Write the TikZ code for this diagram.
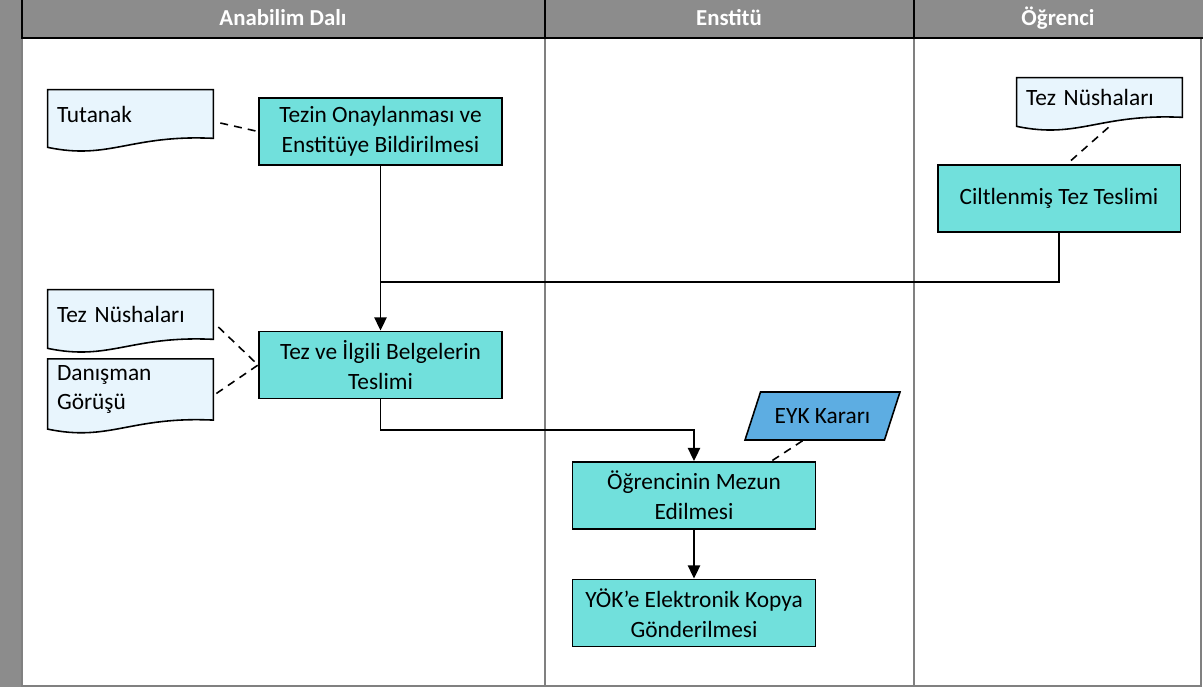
\documentclass[tikz,border=0pt]{standalone}
\usepackage{fontspec}
\setmainfont{Carlito}
\usepackage{tikz}
\usetikzlibrary{arrows.meta}
\usetikzlibrary{shapes.geometric}
\usetikzlibrary{calc}
\usetikzlibrary{backgrounds}
\definecolor{baslik}{RGB}{140,140,140}
\definecolor{kutu}{RGB}{113,224,220}
\definecolor{belge}{RGB}{232,245,253}
\definecolor{karar}{RGB}{93,173,226}
\definecolor{serit}{RGB}{128,128,128}
\tikzset{
    yazi/.style={font=\fontsize{13.3}{17}\selectfont},
    surec/.style={yazi, draw=black, line width=1.1pt, fill=kutu, minimum width=4.86cm, minimum height=1.34cm, align=center},
    evrak/.style={yazi, minimum width=3.3cm, text width=2.94cm, inner xsep=0.18cm, align=left},
    evrakcizgi/.style={draw=black, line width=0.9pt, fill=belge},
    girdi/.style={yazi, draw=black, line width=0.9pt, fill=karar, shape=trapezium, trapezium left angle=60, trapezium right angle=120, trapezium stretches body, minimum width=3.1cm, minimum height=0.96cm},
    seritad/.style={font=\fontsize{13}{15}\selectfont\bfseries, text=white, anchor=base},
    akis/.style={line width=0.9pt, -{Triangle[width=7pt,length=7.5pt]}},
    hat/.style={line width=0.9pt},
    kesik/.style={line width=0.9pt, dash pattern=on 4.5pt off 3.5pt}
}
\begin{document}
\begin{tikzpicture}[x=0.02cm, y=-0.02cm]
    \useasboundingbox (0,0) rectangle (1203,687);

    % seritler
    \fill[baslik] (0,0) rectangle (1203,38);
    \fill[baslik] (0,0) rectangle (22,687);
    \draw[serit, line width=0.6pt] (22,38) rectangle (1201,686);
    \draw[serit, line width=0.6pt] (545,38) -- (545,686);
    \draw[serit, line width=0.6pt] (914,38) -- (914,686);
    \draw[black, line width=1.1pt] (22,0) -- (22,38) -- (1203,38);
    \draw[black, line width=1.1pt] (545,0) -- (545,38);
    \draw[black, line width=1.1pt] (914,0) -- (914,38);
    \node[seritad] (anabilim) at (283,25) {Anabilim Dalı};
    \node[seritad] (enstitu) at (729,25) {Enstitü};
    \node[seritad] (ogrenci) at (1058,25) {Öğrenci};

    % surecler
    \node[surec] (onay) at (380.5,131.5) {Tezin Onaylanması ve\\Enstitüye Bildirilmesi};
    \node[surec] (cilt) at (1059,198.5) {Ciltlenmiş Tez Teslimi};
    \node[surec] (teslim) at (380.5,365) {Tez ve İlgili Belgelerin\\Teslimi};
    \node[surec] (mezun) at (694,495.5) {Öğrencinin Mezun\\Edilmesi};
    \node[surec] (yok) at (694,613) {YÖK’e Elektronik Kopya\\Gönderilmesi};
    \node[girdi] (eyk) at (822.5,416) {EYK Kararı};

    % belgeler
    \node[evrak, minimum height=0.96cm] (tutanak) at (130.5,114) {Tutanak};
    \node[evrak, minimum height=0.98cm] (nushaA) at (130.5,314.5) {Tez Nüshaları};
    \node[evrak, minimum height=1.02cm] (danisman) at (130.5,389.5) {Danışman\\Görüşü};
    \node[evrak, minimum height=0.78cm] (nushaB) at (1099.5,97.5) {Tez Nüshaları};
    \begin{scope}[on background layer]
        \foreach \e in {tutanak, nushaA, danisman, nushaB}
            \draw[evrakcizgi] (\e.north west) -- (\e.north east) -- (\e.south east)
                .. controls ($(\e.south east)+(-1.66cm,0.08cm)$) and ($(\e.south west)+(1.24cm,-0.44cm)$) .. ($(\e.south west)+(0,-0.18cm)$) -- cycle;
    \end{scope}

    % baglantilar
    \coordinate (birles) at (380.5,282);
    \coordinate (kose) at (694,430);
    \draw[akis] (onay) -- (teslim);
    \draw[hat] (cilt.south) |- (birles);
    \draw[akis] (teslim.south) |- (kose) -- (mezun.north);
    \draw[akis] (mezun) -- (yok);

    \draw[kesik] ([shift={(0.14cm,-0.18cm)}]tutanak.east) -- (onay.west);
    \draw[kesik] ([shift={(0.1cm,-0.25cm)}]nushaA.east) -- (teslim.west);
    \draw[kesik] ([shift={(0.06cm,-0.08cm)}]danisman.east) -- (teslim.west);
    \draw[kesik] ([xshift=-0.4cm]eyk.south) -- ([xshift=1.55cm]mezun.north);
    \draw[kesik] ([shift={(0.18cm,-0.2cm)}]nushaB.south) -- ([xshift=0.16cm]cilt.north);
\end{tikzpicture}
\end{document}
